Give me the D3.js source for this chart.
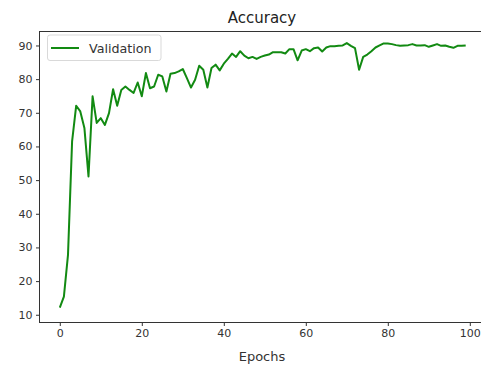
<!DOCTYPE html>
<html>
<head>
<meta charset="utf-8">
<script src="https://cdn.jsdelivr.net/npm/d3@7"></script>
<style>
  body { margin: 0; background: #fff; }
  svg { display: block; font-family: "DejaVu Sans", sans-serif; }
</style>
</head>
<body>
<div id="chart"></div>
<script>
// validation accuracy per epoch
const epochs = d3.range(0, 100);
const validation = [
    12.1, 15.4, 27.8, 61.5, 72.1, 70.4, 65.5, 51.1, 74.9, 67.0,
    68.4, 66.4, 69.9, 77.0, 72.1, 76.8, 77.8, 76.8, 75.9, 79.0,
    74.9, 81.8, 77.3, 77.8, 81.3, 80.8, 76.3, 81.6, 81.8, 82.3,
    83.0, 80.3, 77.5, 79.8, 84.0, 82.8, 77.5, 83.3, 84.3, 82.6,
    84.6, 86.0, 87.6, 86.6, 88.3, 87.0, 86.2, 86.6, 86.0, 86.6,
    87.0, 87.3, 88.0, 88.0, 88.0, 87.6, 88.9, 88.9, 85.6, 88.5,
    88.9, 88.3, 89.2, 89.4, 88.2, 89.4, 89.8, 89.8, 89.9, 90.0,
    90.7, 89.9, 89.2, 82.8, 86.6, 87.3, 88.3, 89.4, 90.0, 90.6,
    90.6, 90.4, 90.1, 89.9, 90.0, 90.1, 90.4, 90.0, 90.0, 90.1,
    89.6, 90.0, 90.4, 89.9, 90.0, 89.6, 89.3, 89.9, 89.9, 90.0
];
const xTicks = [0, 20, 40, 60, 80, 100];
const yTicks = [10, 20, 30, 40, 50, 60, 70, 80, 90];

const width = 481;
const height = 366;
const plotLeft = 39.5, plotRight = 486, plotTop = 31.5, plotBottom = 322.5;
const lineColor = "#128a12";

const svg = d3.select("#chart")
    .append("svg")
    .attr("width", width)
    .attr("height", height);

// matplotlib style 5% margins
const x = d3.scaleLinear().domain([-4.95, 103.95]).range([plotLeft, plotRight]);
const y = d3.scaleLinear().domain([7.7, 94.15]).range([plotBottom, plotTop]);

const xAxis = svg.append("g")
    .attr("transform", `translate(0,${plotBottom})`)
    .call(d3.axisBottom(x).tickValues(xTicks).tickSize(3.5).tickPadding(3.5).tickFormat(d3.format("d")));

const yAxis = svg.append("g")
    .attr("transform", `translate(${plotLeft},0)`)
    .call(d3.axisLeft(y).tickValues(yTicks).tickSize(3.5).tickPadding(3.5).tickFormat(d3.format("d")));

[xAxis, yAxis].forEach(function(ax) {
    ax.select(".domain").remove();
    ax.selectAll("line").attr("stroke", "#333");
    ax.selectAll("text").attr("fill", "#333").style("font-size", "11px").style("font-family", "DejaVu Sans");
});

// frame
svg.append("rect")
    .attr("x", plotLeft)
    .attr("y", plotTop)
    .attr("width", plotRight - plotLeft)
    .attr("height", plotBottom - plotTop)
    .attr("fill", "none")
    .attr("stroke", "#333")
    .attr("stroke-width", 1);

const line = d3.line()
    .x((d, i) => x(epochs[i]))
    .y(d => y(d));

svg.append("path")
    .datum(validation)
    .attr("fill", "none")
    .attr("stroke", lineColor)
    .attr("stroke-width", 2)
    .attr("stroke-linejoin", "round")
    .attr("d", line);

// title + axis label
svg.append("text")
    .attr("x", 262)
    .attr("y", 23)
    .attr("text-anchor", "middle")
    .style("font-size", "15px")
    .attr("fill", "#222")
    .text("Accuracy");

svg.append("text")
    .attr("x", 262)
    .attr("y", 361)
    .attr("text-anchor", "middle")
    .style("font-size", "13px")
    .attr("fill", "#333")
    .text("Epochs");

// legend
const legend = svg.append("g");
legend.append("rect")
    .attr("x", 47.5)
    .attr("y", 35)
    .attr("width", 113.5)
    .attr("height", 25.5)
    .attr("rx", 2.5)
    .attr("fill", "#fff")
    .attr("fill-opacity", 0.8)
    .attr("stroke", "#d9d9d9");
legend.append("line")
    .attr("x1", 51)
    .attr("x2", 79)
    .attr("y1", 48)
    .attr("y2", 48)
    .attr("stroke", lineColor)
    .attr("stroke-width", 2);
legend.append("text")
    .attr("x", 89)
    .attr("y", 52.5)
    .style("font-size", "12.7px")
    .attr("fill", "#333")
    .text("Validation");
</script>
</body>
</html>
